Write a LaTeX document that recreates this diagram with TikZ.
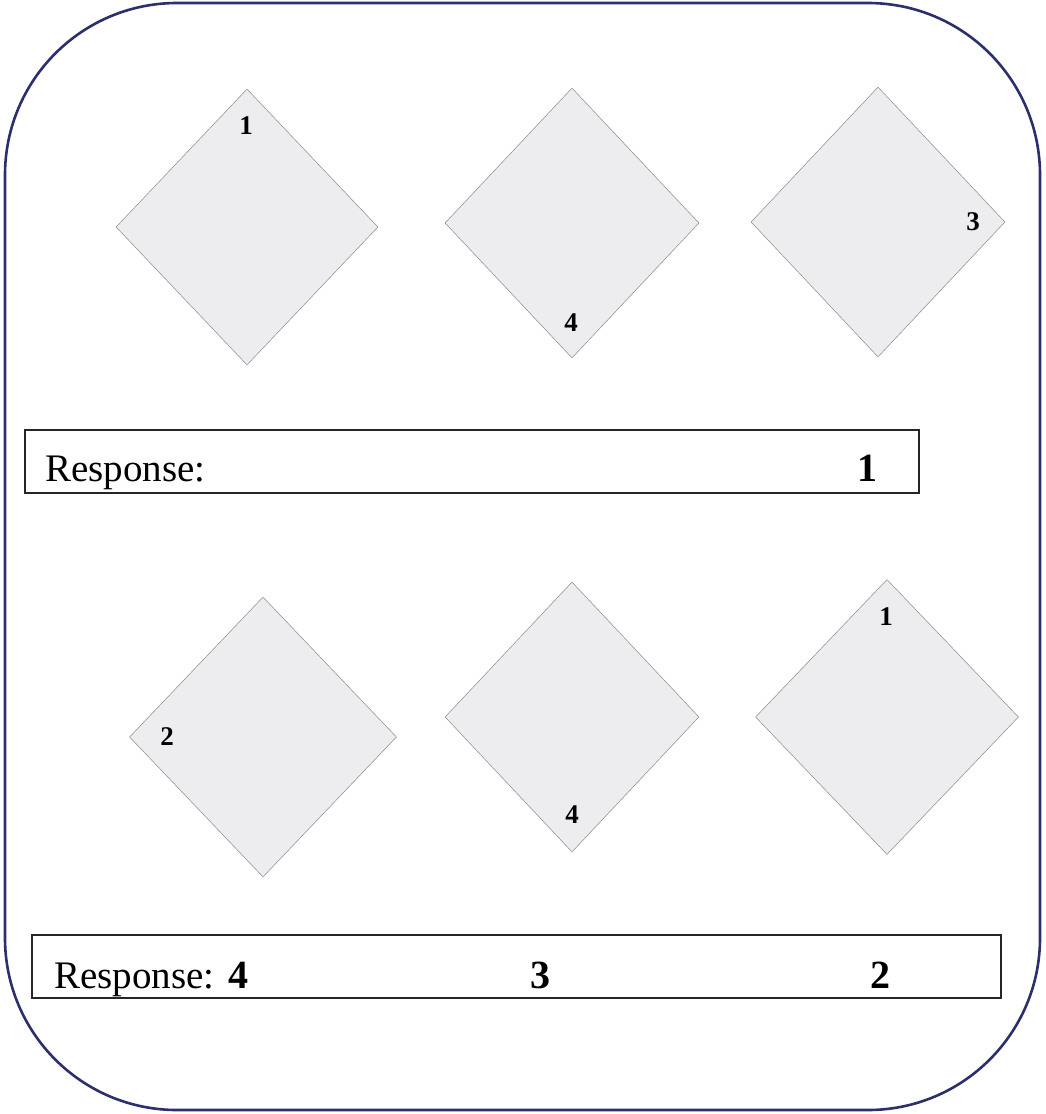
\documentclass[tikz,border=0pt]{standalone}
\usepackage{fontspec}
\setmainfont{Liberation Serif}
\usepackage{tikz}
\usetikzlibrary{shapes.geometric}
\definecolor{framenavy}{HTML}{2B2F6C}
\definecolor{tilegrey}{HTML}{EDEDF0}
\definecolor{tileedge}{HTML}{8A8A8E}

\begin{document}
\begin{tikzpicture}[x=1pt,y=-1pt,
 tile/.style={diamond,draw=tileedge,fill=tilegrey,line width=.5pt,inner sep=0pt,minimum width=258pt,minimum height=272pt},
 tilenum/.style={font=\fontsize{27}{30}\selectfont\bfseries,inner sep=0pt},
 respbox/.style={draw=black!85,line width=1.2pt,inner sep=0pt},
 resptext/.style={font=\fontsize{39}{46}\selectfont,inner sep=0pt,anchor=base west},
 respnum/.style={font=\fontsize{40}{46}\selectfont\bfseries,inner sep=0pt,anchor=base}]
\path[use as bounding box] (0,0) rectangle (1045,1114);
\draw[framenavy,line width=2.6pt,rounded corners=172pt] (5,3) rectangle (1040,1110);
% first trial
\node[tile,minimum width=262pt,minimum height=276pt] (ta) at (247,227) {};
\node[tile,minimum width=254pt,minimum height=270pt] (tb) at (572,223) {};
\node[tile,minimum width=254pt,minimum height=270pt] (tc) at (878,222) {};
\node[tilenum] (ma) at (246,126) {1};
\node[tilenum] (mb) at (571,323) {4};
\node[tilenum] (mc) at (973,222) {3};
\node[respbox,minimum width=894pt,minimum height=63pt] (ra) at (472,461.5) {};
\node[resptext] (rla) at (45,481) {Response:};
\node[respnum] (rna) at (867,481) {1};
% second trial
\node[tile,minimum width=267pt,minimum height=280pt] (td) at (263,737) {};
\node[tile,minimum width=254pt,minimum height=270pt] (te) at (572,717) {};
\node[tile,minimum width=263pt,minimum height=275pt] (tf) at (887,717) {};
\node[tilenum] (md) at (167,737) {2};
\node[tilenum] (me) at (572,815) {4};
\node[tilenum] (mf) at (886,617) {1};
\node[respbox,minimum width=969pt,minimum height=63pt] (rb) at (516.5,966.5) {};
\node[resptext] (rlb) at (54,988) {Response:};
\node[respnum] (rnb1) at (238,988) {4};
\node[respnum] (rnb2) at (540,988) {3};
\node[respnum] (rnb3) at (880,988) {2};
\end{tikzpicture}
\end{document}
